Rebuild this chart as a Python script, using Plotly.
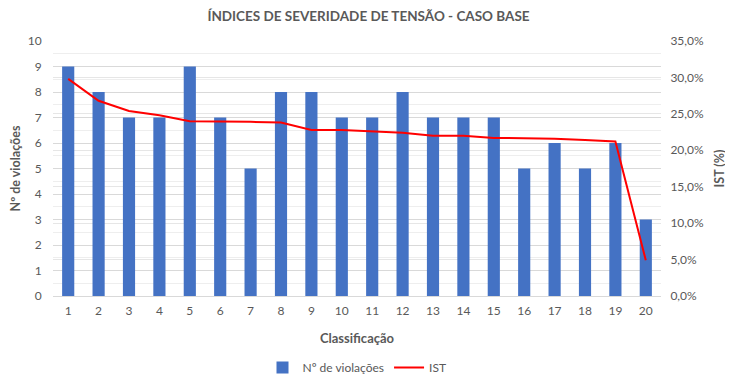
import plotly.graph_objects as go

categories = [str(i) for i in range(1, 21)]
violacoes = [9, 8, 7, 7, 9, 7, 5, 8, 8, 7, 7, 8, 7, 7, 7, 5, 6, 5, 6, 3]
ist = [0.298, 0.268, 0.254, 0.248, 0.240, 0.240, 0.239, 0.238, 0.228, 0.228,
       0.226, 0.224, 0.220, 0.220, 0.217, 0.217, 0.216, 0.214, 0.212, 0.049]
left_ticks = list(range(0, 11))
right_ticks = [0, 0.05, 0.10, 0.15, 0.20, 0.25, 0.30, 0.35]
right_labels = ["0,0%", "5,0%", "10,0%", "15,0%", "20,0%", "25,0%", "30,0%", "35,0%"]

FONT = "Lato, Liberation Sans, sans-serif"
GREY = "#595959"

fig = go.Figure()
fig.add_trace(go.Bar(x=categories, y=violacoes, name="Nº de violações",
                     marker=dict(color="#4472c4", line=dict(width=0)), yaxis="y"))
fig.add_trace(go.Scatter(x=categories, y=ist, name="IST", mode="lines",
                         line=dict(color="#ff0000", width=2), yaxis="y2"))

fig.update_layout(
    width=733, height=376,
    margin=dict(l=45, r=80, t=33, b=88, autoexpand=False),
    paper_bgcolor="white", plot_bgcolor="white",
    font=dict(family=FONT, size=12, color=GREY),
    title=dict(text="<b>ÍNDICES DE SEVERIDADE DE TENSÃO - CASO BASE</b>",
               x=360.5 / 733, xanchor="center", xref="container",
               y=1 - 8 / 376, yref="container", yanchor="middle",
               font=dict(size=13.5, color=GREY, family=FONT)),
    bargap=0.6,
    showlegend=True,
    legend=dict(orientation="h", x=0.5, xanchor="center", y=-0.28, yanchor="middle",
                font=dict(size=12, color=GREY), traceorder="normal"),
    xaxis=dict(title=dict(text="<b>Classificação</b>", font=dict(size=13, color=GREY), standoff=16),
               showgrid=False, showline=True, linecolor="#d9d9d9", linewidth=1,
               ticks="outside", ticklen=4, tickcolor="rgba(0,0,0,0)",
               tickfont=dict(size=12, color=GREY), automargin=False),
    yaxis=dict(title=dict(text="<b>Nº de violações</b>", font=dict(size=12.5, color=GREY), standoff=13),
               range=[0, 10], tickvals=left_ticks, showgrid=True, gridcolor="#d9d9d9",
               minor=dict(dtick=0.5, showgrid=True, gridcolor="#eeeeee"),
               zeroline=False, tickfont=dict(size=12, color=GREY),
               ticks="outside", ticklen=8, tickcolor="rgba(0,0,0,0)", automargin=False),
    yaxis2=dict(title=dict(text="<b>IST (%)</b>", font=dict(size=12.5, color=GREY), standoff=12),
                overlaying="y", side="right", range=[0, 0.35],
                tickvals=right_ticks, ticktext=right_labels,
                showgrid=True, gridcolor="#e6e6e6", zeroline=False,
                tickfont=dict(size=12, color=GREY),
                ticks="outside", ticklen=6, tickcolor="rgba(0,0,0,0)", automargin=False),
)

fig.write_html("out.html")
